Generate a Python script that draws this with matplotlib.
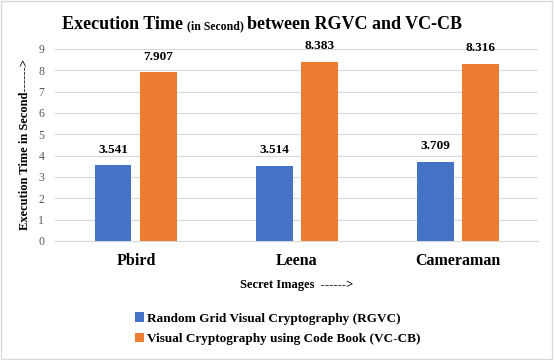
import numpy as np
import matplotlib
matplotlib.use("Agg")
import matplotlib.pyplot as plt
from matplotlib.patches import Rectangle

# data
images = ["Pbird", "Leena", "Cameraman"]
rgvc = [3.541, 3.514, 3.709]
vccb = [7.907, 8.383, 8.316]
series_names = ["Random Grid Visual Cryptography (RGVC)",
                "Visual Cryptography using Code Book (VC-CB)"]

plt.rcParams['font.family'] = ['Liberation Serif', 'DejaVu Serif']

fig = plt.figure(figsize=(5.54, 3.6), dpi=100)
ax = fig.add_axes([0.1, 0.331, 0.872, 0.533])

x = np.arange(len(images))
w = 0.225
off = 0.14
b1 = ax.bar(x - off, rgvc, w, color='#4472C4', label=series_names[0], zorder=3)
b2 = ax.bar(x + off, vccb, w, color='#ED7D31', label=series_names[1], zorder=3)

for bars, vals in ((b1, rgvc), (b2, vccb)):
    for b, v in zip(bars, vals):
        ax.annotate(f"{v:.3f}", (b.get_x() + b.get_width() / 2, v),
                    xytext=(0, 7), textcoords='offset points',
                    ha='center', va='bottom', fontsize=9.5, fontweight='bold')

ax.set_ylim(0, 9)
ax.set_xlim(-0.5, 2.5)
ax.set_yticks(range(10))
ax.set_xticks(x)
ax.set_xticklabels(images, fontsize=11.5, fontweight='bold')
ax.tick_params(axis='y', labelsize=8.5, colors='#595959', length=0, pad=8)
ax.tick_params(axis='x', length=0, pad=9)
ax.grid(axis='y', color='#d9d9d9', linewidth=0.8, zorder=0)
for s in ['top', 'right', 'left']:
    ax.spines[s].set_visible(False)
ax.spines['bottom'].set_color('#d9d9d9')

ax.set_ylabel("Execution Time in Second------>", fontsize=9, fontweight='bold', labelpad=5)
ax.set_xlabel("Secret Images  ------>", fontsize=9, fontweight='bold', labelpad=7)

fig.legend(loc='upper left', bbox_to_anchor=(0.222, 0.165), frameon=False,
           handlelength=0.7, handleheight=0.7, handletextpad=0.2,
           labelspacing=0.6, prop={'weight': 'bold', 'size': 9.5})

# title with a smaller "(in Second)" part
parts = [("Execution Time ", 13), ("(in Second) ", 8.5), ("between RGVC and VC-CB", 13)]
renderer = fig.canvas.get_renderer()
texts = []
for s, fs in parts:
    t = fig.text(0, 0.92, s, fontsize=fs, fontweight='bold', va='baseline')
    texts.append(t)
widths = [t.get_window_extent(renderer).width for t in texts]
xpos = 262 - sum(widths) / 2
for t, wd in zip(texts, widths):
    t.set_x(xpos / fig.bbox.width)
    xpos += wd

fig.patches.append(Rectangle((0.002, 0.003), 0.995, 0.993, transform=fig.transFigure,
                             fill=False, edgecolor='#d9d9d9', linewidth=1))

fig.savefig("out.png", dpi=100)
